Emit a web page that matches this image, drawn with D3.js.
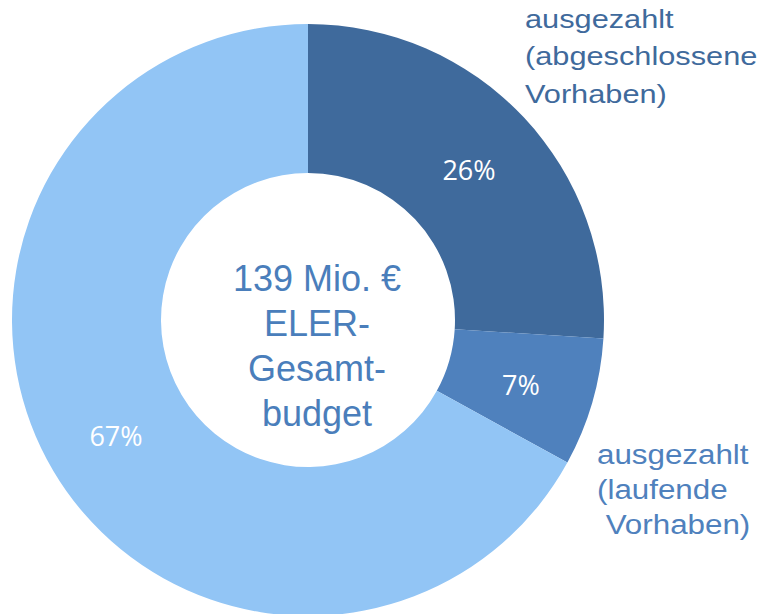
<!DOCTYPE html>
<html><head><meta charset="utf-8">
<script src="https://cdn.jsdelivr.net/npm/d3@7"></script>
<style>body{margin:0;background:#fff}svg{display:block}</style>
</head><body>
<script>
const categories = ["ausgezahlt (abgeschlossene Vorhaben)", "ausgezahlt (laufende Vorhaben)", "nicht ausgezahlt"];
const values = [26, 7, 67];
const percentLabels = ["26%", "7%", "67%"];
const colors = ["#3F6A9C", "#4F81BD", "#92C5F5"];
const centerLines = ["139 Mio. €", "ELER-", "Gesamt-", "budget"];
const labelTop = ["ausgezahlt", "(abgeschlossene", "Vorhaben)"];
const labelBottom = ["ausgezahlt", "(laufende", " Vorhaben)"];

const W = 768, H = 614;
const svg = d3.select("body").append("svg").attr("width", W).attr("height", H);
const cx = 308, cy = 320, R = 296, r = 147;
const g = svg.append("g").attr("transform", `translate(${cx},${cy})`);
const pie = d3.pie().sort(null).value(d => d)(values);
const arc = d3.arc().innerRadius(r).outerRadius(R);
g.selectAll("path.s").data(pie).join("path")
  .attr("d", arc).attr("fill", (d, i) => colors[i]);

const labelPos = [[469 - cx, 169 - cy], [521 - cx, 384 - cy], [116 - cx, 435 - cy]];
g.selectAll("text.p").data(pie).join("text")
  .attr("x", (d, i) => labelPos[i][0]).attr("y", (d, i) => labelPos[i][1])
  .attr("text-anchor", "middle").attr("dominant-baseline", "central")
  .attr("fill", "#fff").attr("font-family", "'Open Sans', sans-serif").attr("font-size", 27)
  .text((d, i) => percentLabels[i]);

const ct = svg.append("text").attr("text-anchor", "middle")
  .attr("font-family", "'Liberation Sans', Arial, sans-serif").attr("font-size", 36).attr("fill", "#4A7EBB");
centerLines.forEach((t, i) => ct.append("tspan").attr("x", 317).attr("y", 291 + i * 45).text(t));

const tt = svg.append("text").attr("font-family", "'Liberation Sans', Arial, sans-serif")
  .attr("transform", "translate(525,28) scale(1.16,1)")
  .attr("font-size", 26.5).attr("fill", "#3F6A9C").style("white-space", "pre");
labelTop.forEach((t, i) => tt.append("tspan").attr("x", 0).attr("y", i * 37.5).text(t));

const tb = svg.append("text").attr("font-family", "'Liberation Sans', Arial, sans-serif")
  .attr("transform", "translate(597,464) scale(1.14,1)")
  .attr("font-size", 27.5).attr("fill", "#4F81BD").style("white-space", "pre");
labelBottom.forEach((t, i) => tb.append("tspan").attr("x", 0).attr("y", i * 35).text(t));
</script>
</body></html>
